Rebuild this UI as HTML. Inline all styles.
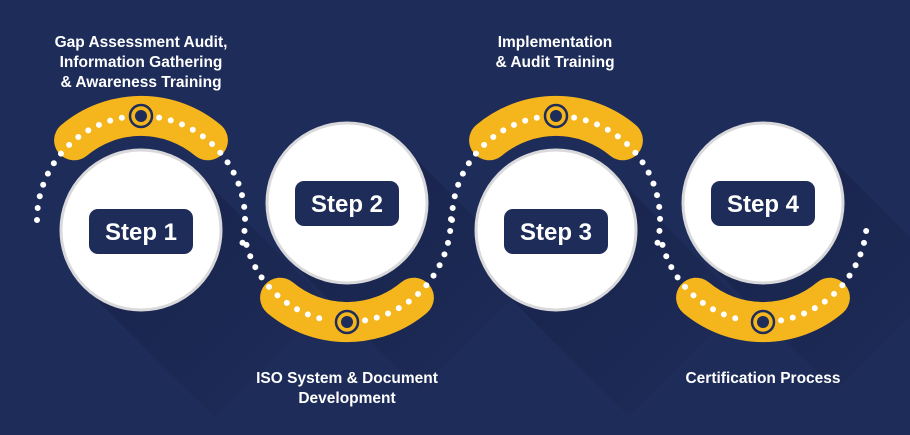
<!DOCTYPE html>
<html><head><style>
html,body{margin:0;padding:0;background:#1e2c59;}
svg{display:block}
text{font-family:"Liberation Sans",sans-serif;font-weight:bold;}
</style></head><body>
<svg width="910" height="435" viewBox="0 0 910 435" xmlns="http://www.w3.org/2000/svg">
<defs>
<linearGradient id="sh" x1="0" y1="0" x2="1" y2="1">
<stop offset="0" stop-color="#0f1836" stop-opacity="0.45"/>
<stop offset="1" stop-color="#0f1836" stop-opacity="0"/>
</linearGradient>
</defs>
<rect width="910" height="435" fill="#1e2c59"/>

<g fill="url(#sh)">
<polygon points="198,173 84,287 214,417 328,303"/>
<polygon points="404,147 290,261 420,391 534,277"/>
<polygon points="613,173 499,287 629,417 743,303"/>
<polygon points="820,147 706,261 836,391 950,277"/>
</g>

<g fill="none" stroke="#f5b51d" stroke-width="40" stroke-linecap="round">
<path d="M 74.1,140.3 A 104 104 0 0 1 207.9,140.3"/>
<path d="M 280.1,297.7 A 104 104 0 0 0 413.9,297.7"/>
<path d="M 489.1,140.3 A 104 104 0 0 1 622.9,140.3"/>
<path d="M 696.1,297.7 A 104 104 0 0 0 829.9,297.7"/>
</g>

<g fill="none" stroke="#ffffff" stroke-width="6" stroke-linecap="round" stroke-dasharray="0 12">
<path d="M 37,220 A 104 104 0 0 1 122.9,117.6"/>
<path d="M 159.1,117.6 A 104 104 0 0 1 241.5,246.9"/>
<path d="M 246.5,244.9 A 104 104 0 0 0 328.9,320.4"/>
<path d="M 365.1,320.4 A 104 104 0 0 0 451,218"/>
<path d="M 452,220 A 104 104 0 0 1 537.9,117.6"/>
<path d="M 574.1,117.6 A 104 104 0 0 1 656.5,246.9"/>
<path d="M 662.5,244.9 A 104 104 0 0 0 744.9,320.4"/>
<path d="M 781.1,320.4 A 104 104 0 0 0 866.6,227"/>
</g>

<g fill="none" stroke="#1e2c59" stroke-width="2.5">
<circle cx="141" cy="116" r="11"/><circle cx="347" cy="322" r="11"/>
<circle cx="556" cy="116" r="11"/><circle cx="763" cy="322" r="11"/>
</g>
<g fill="#1e2c59">
<circle cx="141" cy="116" r="6"/><circle cx="347" cy="322" r="6"/>
<circle cx="556" cy="116" r="6"/><circle cx="763" cy="322" r="6"/>
</g>

<g fill="#ffffff" stroke="#d9d9dc" stroke-width="3">
<circle cx="141" cy="230" r="80"/>
<circle cx="347" cy="203" r="80"/>
<circle cx="556" cy="230" r="80"/>
<circle cx="763" cy="203" r="80"/>
</g>

<g fill="#1e2c59">
<rect x="89" y="209" width="104" height="45" rx="9"/>
<rect x="295" y="181" width="104" height="45" rx="9"/>
<rect x="504" y="209" width="104" height="45" rx="9"/>
<rect x="711" y="181" width="104" height="45" rx="9"/>
</g>
<g fill="#ffffff" font-size="24" text-anchor="middle">
<text x="141" y="240">Step 1</text>
<text x="347" y="212">Step 2</text>
<text x="556" y="240">Step 3</text>
<text x="763" y="212">Step 4</text>
</g>

<g fill="#ffffff" font-size="15.5" text-anchor="middle">
<text x="141" y="47">Gap Assessment Audit,</text>
<text x="141" y="67">Information Gathering</text>
<text x="141" y="87">&amp; Awareness Training</text>
<text x="555" y="47">Implementation</text>
<text x="555" y="67">&amp; Audit Training</text>
<text x="347" y="383">ISO System &amp; Document</text>
<text x="347" y="403">Development</text>
<text x="763" y="383">Certification Process</text>
</g>
</svg>
</body></html>
